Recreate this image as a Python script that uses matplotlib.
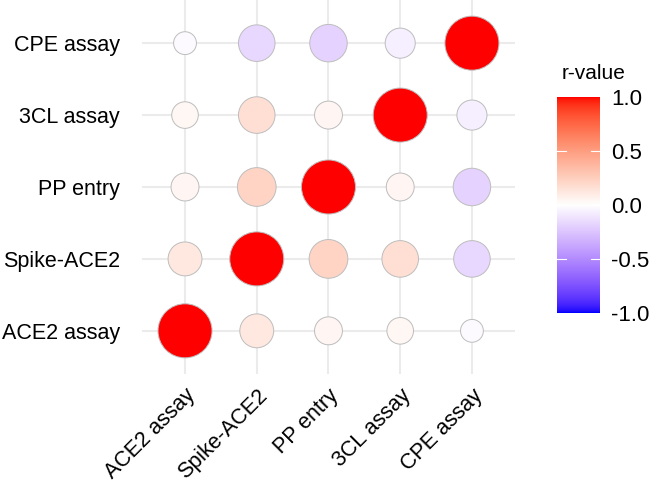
import numpy as np
import matplotlib
matplotlib.use("Agg")
import matplotlib.pyplot as plt
from matplotlib.colors import ListedColormap, Normalize

plt.rcParams["font.family"] = ["Liberation Sans", "DejaVu Sans"]

# ------------------------------------------------------------------ #
# Data                                                                #
# ------------------------------------------------------------------ #

assays = ["ACE2 assay", "Spike-ACE2", "PP entry", "3CL assay", "CPE assay"]

# correlation matrix, same order as `assays` (rows and columns)
r_ace2  = [1.00,  0.12,  0.05,  0.04, -0.02]
r_spike = [0.12,  1.00,  0.22,  0.17, -0.17]
r_pp    = [0.05,  0.22,  1.00,  0.05, -0.19]
r_3cl   = [0.04,  0.17,  0.05,  1.00, -0.07]
r_cpe   = [-0.02, -0.17, -0.19, -0.07, 1.00]

cbar_ticks = [-1.0, -0.5, 0.0, 0.5, 1.0]


# ------------------------------------------------------------------ #
# Colour scale: blue - white - red, interpolated in Lab like ggplot   #
# ------------------------------------------------------------------ #

def _srgb_to_lab(rgb):
    c = np.asarray(rgb, float)
    lin = np.where(c <= 0.04045, c / 12.92, ((c + 0.055) / 1.055) ** 2.4)
    m = np.array([[0.4124, 0.3576, 0.1805],
                  [0.2126, 0.7152, 0.0722],
                  [0.0193, 0.1192, 0.9505]])
    xyz = m @ lin / np.array([0.95047, 1.0, 1.08883])
    f = np.where(xyz > 0.008856, np.cbrt(xyz), 7.787 * xyz + 16 / 116)
    return np.array([116 * f[1] - 16, 500 * (f[0] - f[1]), 200 * (f[1] - f[2])])


def _lab_to_srgb(lab):
    L, a, b = lab
    fy = (L + 16) / 116
    f = np.array([fy + a / 500, fy, fy - b / 200])
    xyz = np.where(f ** 3 > 0.008856, f ** 3, (f - 16 / 116) / 7.787)
    xyz = xyz * np.array([0.95047, 1.0, 1.08883])
    m = np.array([[3.2406, -1.5372, -0.4986],
                  [-0.9689, 1.8758, 0.0415],
                  [0.0557, -0.2040, 1.0570]])
    lin = np.clip(m @ xyz, 0, 1)
    c = np.where(lin <= 0.0031308, 12.92 * lin, 1.055 * lin ** (1 / 2.4) - 0.055)
    return np.clip(c, 0, 1)


def gradient2(n=256):
    lo, mid, hi = (_srgb_to_lab(c) for c in [(0, 0, 1), (1, 1, 1), (1, 0, 0)])
    cols = []
    for t in np.linspace(-1, 1, n):
        if t < 0:
            lab = mid + (lo - mid) * (-t)
        else:
            lab = mid + (hi - mid) * t
        cols.append(_lab_to_srgb(lab))
    return ListedColormap(cols)


cmap = gradient2()
norm = Normalize(-1, 1)

# ------------------------------------------------------------------ #
# Plot                                                                #
# ------------------------------------------------------------------ #

R = np.array([r_ace2, r_spike, r_pp, r_3cl, r_cpe])
n = len(assays)
xx, yy = np.meshgrid(np.arange(1, n + 1), np.arange(1, n + 1))
vals = R.ravel()

# bubble diameter grows with |r| (in pixels at dpi=100 -> points)
diam_px = 54 * np.abs(vals) ** 0.22
sizes = (diam_px * 0.72) ** 2

fig = plt.figure(figsize=(6.61, 4.84), dpi=100)
ax = fig.add_axes([0.2148, 0.2273, 0.5643, 0.7727])

ax.scatter(xx.ravel(), yy.ravel(), s=sizes, c=vals, cmap=cmap, norm=norm,
           edgecolors="#BDBDBD", linewidths=0.7, zorder=3)

ax.set_xlim(0.4, n + 0.6)
ax.set_ylim(0.4, n + 0.6)
ax.set_xticks(range(1, n + 1))
ax.set_yticks(range(1, n + 1))
ax.set_xticklabels(assays, rotation=45, ha="right", va="top",
                   rotation_mode="anchor", fontsize=15.5)
ax.set_yticklabels(assays, fontsize=15.5)
ax.tick_params(length=0, pad=16, axis="y")
ax.tick_params(length=0, pad=8, axis="x")
ax.grid(True, color="#EBEBEB", linewidth=1.5)
ax.set_axisbelow(True)
for sp in ax.spines.values():
    sp.set_visible(False)

# colour bar
cax = fig.add_axes([557 / 661, (484 - 313) / 484, 43 / 661, 216 / 484])
grad = np.linspace(-1, 1, 256).reshape(-1, 1)
cax.imshow(grad, cmap=cmap, norm=norm, aspect="auto", origin="lower",
           extent=[0, 1, -1, 1])
for t in cbar_ticks[1:-1]:
    cax.plot([0, 0.2], [t, t], color="white", lw=0.8)
    cax.plot([0.8, 1], [t, t], color="white", lw=0.8)
cax.set_xlim(0, 1)
cax.set_ylim(-1, 1)
cax.set_xticks([])
cax.yaxis.tick_right()
cax.set_yticks(cbar_ticks)
cax.set_yticklabels([f"{t:.1f}" for t in cbar_ticks], fontsize=16)
cax.tick_params(length=0, pad=8)
for sp in cax.spines.values():
    sp.set_visible(False)
cax.set_title("r-value", fontsize=15, loc="left", pad=13, x=0.1)

fig.savefig("out.png", dpi=100)
